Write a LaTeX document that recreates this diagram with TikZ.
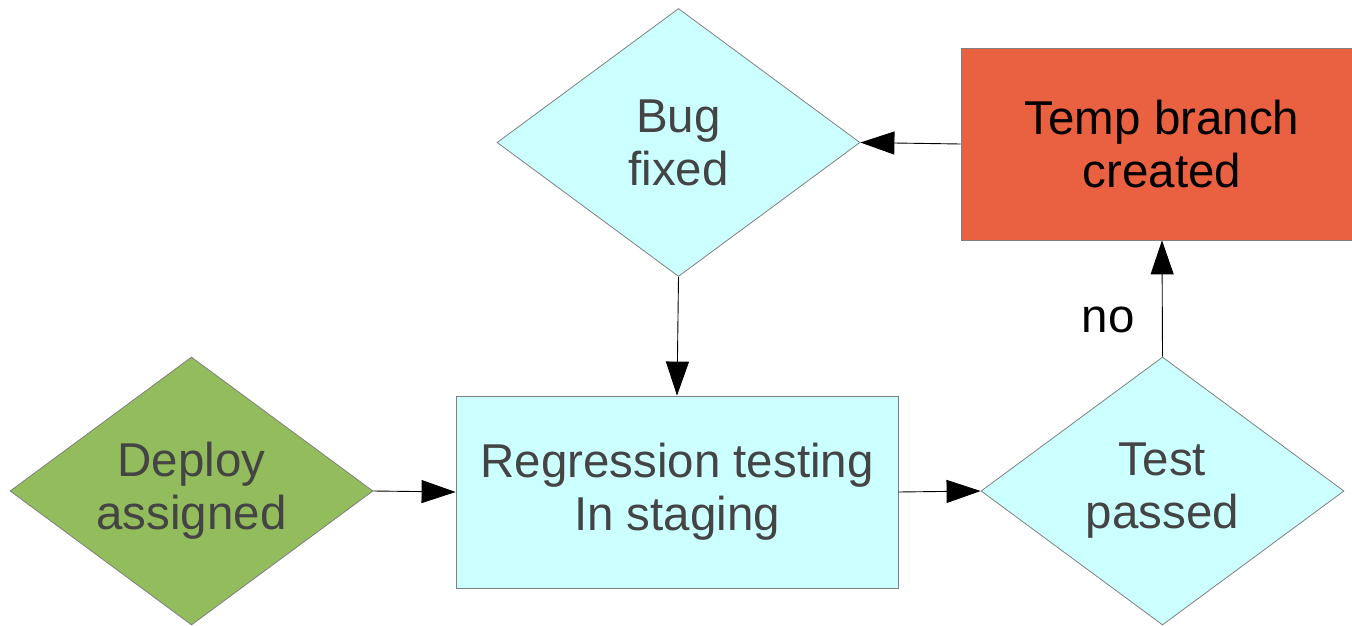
\documentclass[tikz,border=0pt]{standalone}
\usepackage{fontspec}
\setmainfont{Liberation Sans}
\usetikzlibrary{shapes.geometric,arrows.meta}
\definecolor{lightcyan}{RGB}{204,255,255}
\definecolor{leafgreen}{RGB}{147,188,92}
\definecolor{brickred}{RGB}{233,97,64}
\definecolor{textgray}{RGB}{68,68,68}
\begin{document}
\begin{tikzpicture}[x=1pt,y=-1pt]
\tikzstyle{every node} = [font=\fontsize{47.5}{53}\selectfont, align=center, inner sep=0pt]
\tikzstyle{decision} = [draw=gray, line width=0.8pt, shape=diamond, aspect=1.355, minimum width=363pt, minimum height=268pt, text=textgray]
\tikzstyle{stepbox} = [draw=gray, line width=0.8pt, shape=rectangle]
\tikzstyle{flow} = [line width=0.9pt, -{Triangle[length=34pt,width=23pt]}]
\useasboundingbox (0,0) rectangle (1352,626);

\node [decision, fill=leafgreen] (deploy) at (191.5, 491) {Deploy\\assigned};
\node [stepbox, fill=lightcyan, text=textgray, minimum width=442pt, minimum height=192pt] (regr) at (677, 492) {Regression testing\\In staging};
\node [decision, fill=lightcyan] (test) at (1162.5, 491) {Test\\passed};
\node [stepbox, fill=brickred, minimum width=402pt, minimum height=192pt] (temp) at (1162, 144) {Temp branch\\created};
\node [decision, fill=lightcyan] (bug) at (678.5, 142.5) {Bug\\fixed};

\draw [flow] (deploy.east) to (regr.west);
\draw [flow] (regr.east) to (test.west);
\draw [flow] (test.north) to (temp.south);
\draw [flow] (temp.west) to (bug.east);
\draw [flow] (bug.south) to (regr.north);

\node (no) at (1108, 320) {no};
\end{tikzpicture}
\end{document}
